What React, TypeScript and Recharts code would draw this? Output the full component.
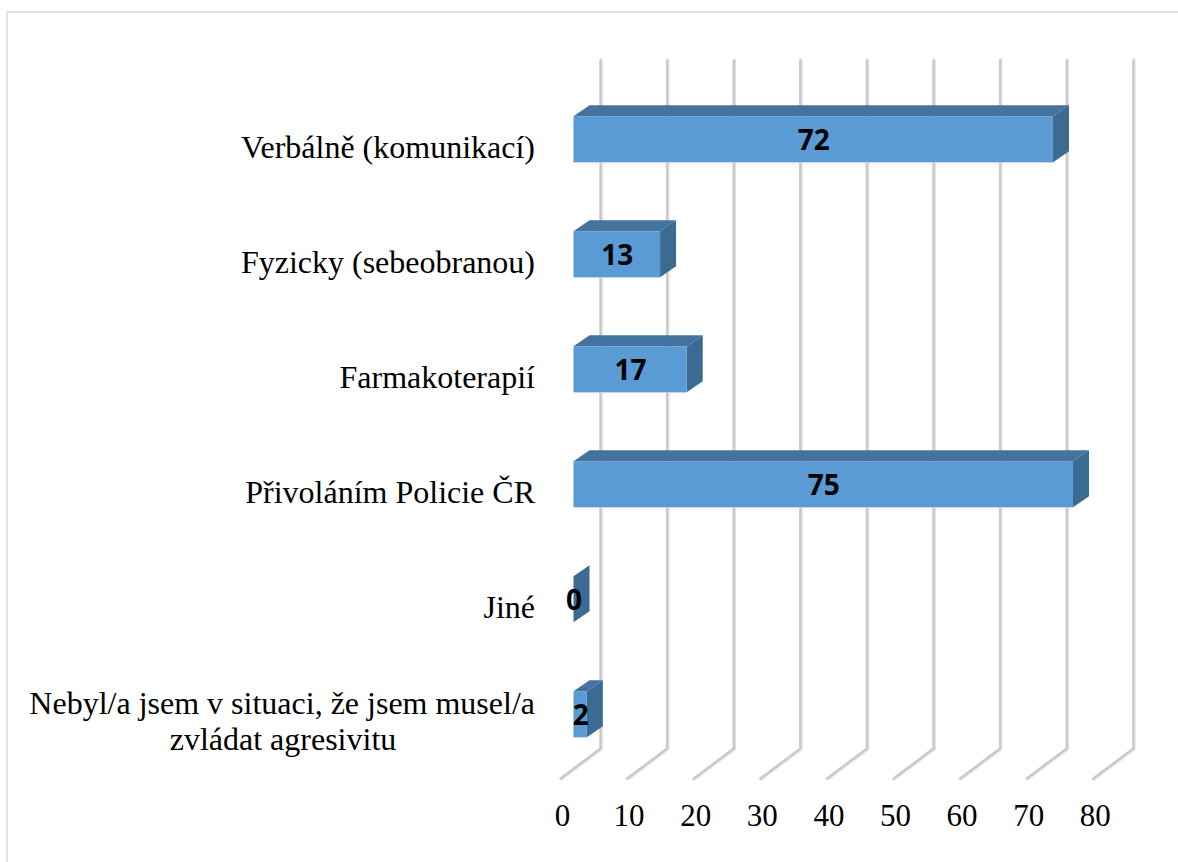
import { Bar, BarChart, CartesianGrid, LabelList, XAxis, YAxis } from "recharts";

const categories = [
  "Verbálně (komunikací)",
  "Fyzicky (sebeobranou)",
  "Farmakoterapií",
  "Přivoláním Policie ČR",
  "Jiné",
  "Nebyl/a jsem v situaci, že jsem musel/a zvládat agresivitu",
];
const values = [72, 13, 17, 75, 0, 2];
const xTicks = [0, 10, 20, 30, 40, 50, 60, 70, 80];

const data = categories.map((name, i) => ({ name, value: values[i] }));

const SERIF = '"Liberation Serif", "Times New Roman", serif';
const DEPTH_X = 16;
const DEPTH_Y = 11;

function Bar3D({ x, y, width, height }: any) {
  const r = x + width;
  const b = y + height;
  return (
    <g>
      <path
        d={`M${x} ${y}L${x + DEPTH_X} ${y - DEPTH_Y}L${r + DEPTH_X} ${y - DEPTH_Y}L${r} ${y}Z`}
        fill="#44739f"
      />
      <path
        d={`M${r} ${y}L${r + DEPTH_X} ${y - DEPTH_Y}L${r + DEPTH_X} ${b - DEPTH_Y}L${r} ${b}Z`}
        fill="#3b6a92"
      />
      <rect x={x} y={y} width={width} height={height} fill="#5b9bd5" />
      {width > 0 && <line x1={x} y1={b + 0.5} x2={r} y2={b + 0.5} stroke="#c9d3dc" />}
    </g>
  );
}

// wall line plus the short floor stroke running towards the axis labels
function WallLine({ x1, y1, y2 }: any) {
  const d = `M${x1 + 27.5} ${y1 - 21}L${x1 + 27.5} ${y2 - 22.5}L${x1 - 12.5} ${y2 + 7.5}`;
  return (
    <g fill="none" strokeLinecap="round" strokeLinejoin="round">
      <path d={d} stroke="#dcdcdc" strokeWidth={3.6} />
      <path d={d} stroke="#c6c6c6" strokeWidth={1.6} transform="translate(-0.5,0)" />
    </g>
  );
}

function CategoryTick({ y, payload }: any) {
  const text: string = payload.value;
  const split = text.indexOf(" zvládat");
  const common = { fontFamily: SERIF, fontSize: 32, fill: "#000" };
  if (split < 0) {
    return (
      <text x={535} y={y + 19} textAnchor="end" {...common}>
        {text}
      </text>
    );
  }
  return (
    <g>
      <text x={535} y={y + 0.5} textAnchor="end" {...common}>
        {text.slice(0, split)}
      </text>
      <text x={283} y={y + 36} textAnchor="middle" {...common}>
        {text.slice(split + 1)}
      </text>
    </g>
  );
}

function ValueTick({ x, payload }: any) {
  return (
    <text x={x - 11} y={826} textAnchor="middle" fontFamily={SERIF} fontSize={31} fill="#000">
      {payload.value}
    </text>
  );
}

export default function App() {
  return (
    <div style={{ position: "absolute", left: 0, top: 0, width: 1178, height: 862, background: "#fff", overflow: "hidden" }}>
      <div
        style={{
          position: "absolute",
          left: 6,
          top: 11,
          width: 1172,
          height: 851,
          borderTop: "2px solid #e2e2e2",
          borderLeft: "2.5px solid #e2e2e2",
          boxSizing: "border-box",
        }}
      />
      <div style={{ position: "absolute", left: 0, top: 0 }}>
        <BarChart
          width={1178}
          height={862}
          data={data}
          layout="vertical"
          barCategoryGap={0}
          margin={{ top: 81.2, right: 71.7, bottom: 30.8, left: 0 }}
        >
          <CartesianGrid horizontal={false} vertical={(props: any) => <WallLine key={props.key ?? props.x1} {...props} />} />
          <XAxis
            type="number"
            domain={[0, 80]}
            ticks={xTicks}
            height={60}
            axisLine={false}
            tickLine={false}
            tick={<ValueTick />}
            interval={0}
          />
          <YAxis
            type="category"
            dataKey="name"
            width={573.5}
            axisLine={false}
            tickLine={false}
            tick={<CategoryTick />}
            interval={0}
          />
          <Bar dataKey="value" barSize={46} shape={<Bar3D />} isAnimationActive={false}>
            <LabelList
              dataKey="value"
              position="center"
              dx={0.5}
              dy={0.5}
              fill="#000"
              fontFamily='"Open Sans", sans-serif'
              fontWeight={700}
              fontSize={28}
            />
          </Bar>
        </BarChart>
      </div>
    </div>
  );
}
